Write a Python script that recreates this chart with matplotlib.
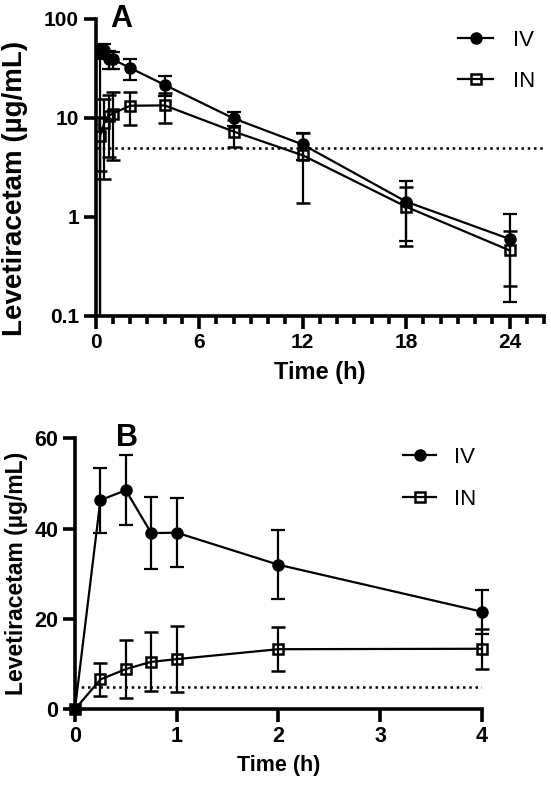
import numpy as np
import matplotlib
matplotlib.use("Agg")
import matplotlib.pyplot as plt
from matplotlib.ticker import FixedLocator, MultipleLocator, NullLocator, FixedFormatter

plt.rcParams['font.family'] = ['Liberation Sans', 'DejaVu Sans']

# time points (h) and mean +/- SD concentrations (ug/mL)
time_h = [0, 0.25, 0.5, 0.75, 1, 2, 4, 8, 12, 18, 24]
iv_mean = [0, 46.3, 48.5, 39.0, 39.1, 32.0, 21.6, 9.9, 5.4, 1.43, 0.60]
iv_sd = [0, 7.2, 7.8, 8.0, 7.6, 7.6, 4.9, 1.6, 1.6, 0.86, 0.46]
in_mean = [0, 6.6, 8.9, 10.5, 11.1, 13.3, 13.4, 7.3, 4.2, 1.27, 0.46]
in_sd = [0, 3.7, 6.5, 6.5, 7.3, 4.9, 4.4, 2.2, 2.8, 0.76, 0.26]
lloq = 5

t = np.array(time_h)
ivm, ivs = np.array(iv_mean), np.array(iv_sd)
inm, ins = np.array(in_mean), np.array(in_sd)

fig = plt.figure(figsize=(5.51, 7.88), dpi=100)
axA = fig.add_axes([0.1737, 0.599, 0.8136, 0.3769])
axB = fig.add_axes([0.136, 0.0999, 0.7387, 0.3439])

spine_w = 2.6


def style(ax, fs):
    for s in ['top', 'right']:
        ax.spines[s].set_visible(False)
    for s in ['left', 'bottom']:
        ax.spines[s].set_linewidth(spine_w)
    ax.tick_params(which='major', length=9, width=spine_w, labelsize=fs, pad=3)
    ax.tick_params(which='minor', length=5.5, width=spine_w)
    for lab in ax.get_xticklabels() + ax.get_yticklabels():
        lab.set_fontweight('bold')


def draw(ax, tt, a, sa, b, sb, clip):
    e1 = ax.errorbar(tt, a, yerr=sa, color='black', lw=1.6, marker='o', ms=8,
                     capsize=5, capthick=1.6, elinewidth=1.6, clip_on=clip, zorder=4)
    e2 = ax.errorbar(tt, b, yerr=sb, color='black', lw=1.6, marker='s', ms=7.5,
                     mfc='none', mec='black', mew=1.8,
                     capsize=5, capthick=1.6, elinewidth=1.6, clip_on=clip, zorder=3)
    return e1[0], e2[0]


# panel A, log scale, full 24 h
hA = draw(axA, t, ivm, ivs, inm, ins, True)
axA.set_yscale('log')
axA.set_ylim(0.1, 100)
axA.set_xlim(0, 26)
axA.plot([0, 26], [lloq, lloq], ls=(0, (1, 1.5)), color='black', lw=1.8, zorder=1)
axA.xaxis.set_major_locator(FixedLocator([0, 6, 12, 18, 24]))
axA.xaxis.set_minor_locator(MultipleLocator(1))
axA.yaxis.set_major_locator(FixedLocator([0.1, 1, 10, 100]))
axA.yaxis.set_major_formatter(FixedFormatter(['0.1', '1', '10', '100']))
axA.yaxis.set_minor_locator(NullLocator())
style(axA, 15)
axA.set_xlabel('Time (h)', fontsize=17, fontweight='bold')
axA.xaxis.set_label_coords(0.5, -0.15)
axA.set_ylabel('Levetiracetam (µg/mL)', fontsize=20, fontweight='bold')
axA.yaxis.set_label_coords(-0.15, 0.43)
axA.text(0.032, 1.0, 'A', transform=axA.transAxes, fontsize=22, fontweight='bold', va='center')
fig.legend(hA, ['IV', 'IN'], loc='upper left', bbox_to_anchor=(0.831, 0.962), frameon=False,
           fontsize=16, handlelength=1.6, handletextpad=0.9, labelspacing=0.9,
           borderpad=0, borderaxespad=0)

# panel B, linear, first 4 h
m = t <= 4
hB = draw(axB, t[m], ivm[m], ivs[m], inm[m], ins[m], False)
axB.set_ylim(0, 60)
axB.set_xlim(0, 4)
axB.plot([0, 4], [lloq, lloq], ls=(0, (1, 1.5)), color='black', lw=1.8, zorder=1)
axB.xaxis.set_major_locator(FixedLocator([0, 1, 2, 3, 4]))
axB.yaxis.set_major_locator(FixedLocator([0, 20, 40, 60]))
style(axB, 15.5)
axB.set_xlabel('Time (h)', fontsize=15.5, fontweight='bold')
axB.xaxis.set_label_coords(0.5, -0.17)
axB.set_ylabel('Levetiracetam (µg/mL)', fontsize=16.5, fontweight='bold')
axB.yaxis.set_label_coords(-0.115, 0.5)
axB.text(0.1, 1.0, 'B', transform=axB.transAxes, fontsize=22, fontweight='bold', va='center')
fig.legend(hB, ['IV', 'IN'], loc='upper left', bbox_to_anchor=(0.7314, 0.433), frameon=False,
           fontsize=16, handlelength=1.5, handletextpad=0.8, labelspacing=0.95,
           borderpad=0, borderaxespad=0)

fig.savefig('out.png', dpi=100)
